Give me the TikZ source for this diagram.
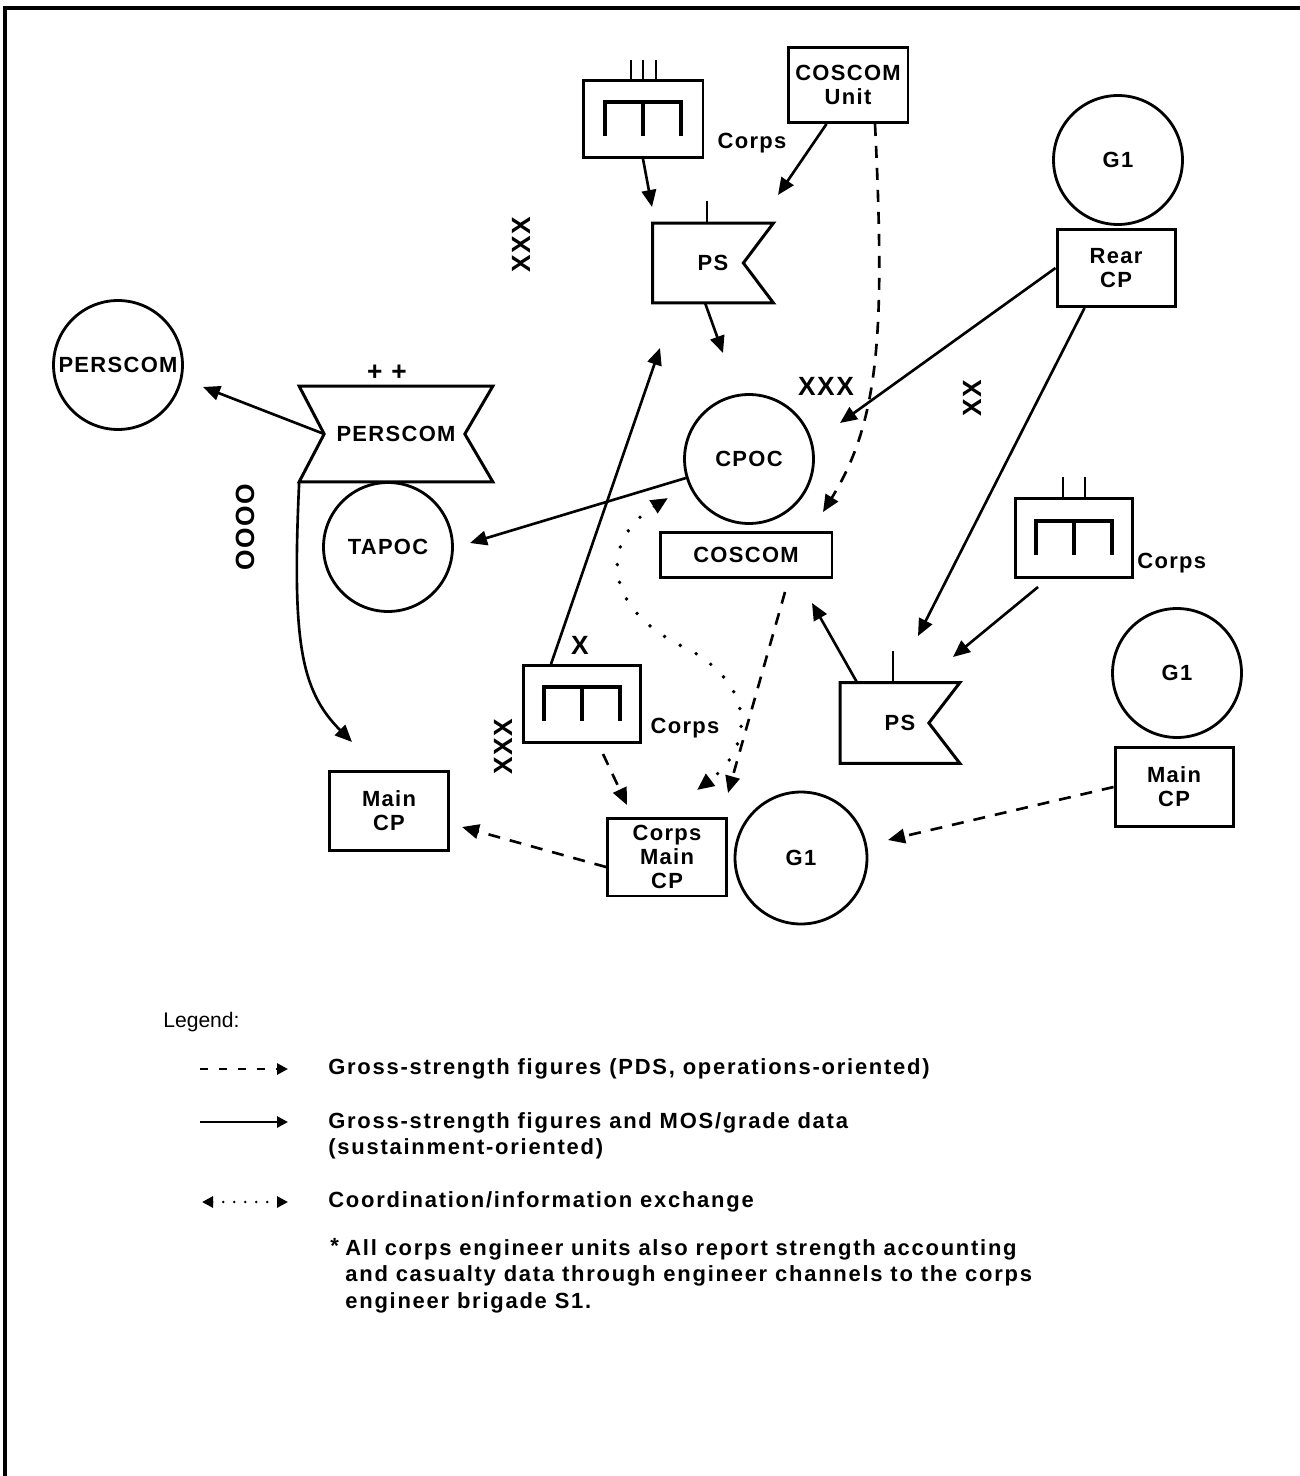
\documentclass[tikz,border=0pt]{standalone}
\usepackage{fontspec}
\setmainfont{Liberation Sans}
\newfontfamily\lblfont[LetterSpace=6]{Liberation Sans}
\newfontfamily\legfamily[LetterSpace=8]{Liberation Sans}
\usetikzlibrary{arrows.meta,calc}

\newcommand\lbl{\lblfont\bfseries\fontsize{12.5}{13.5}\selectfont}
\newcommand\ech{\lblfont\bfseries\fontsize{15}{16}\selectfont}
\newcommand\legfont{\legfamily\bfseries\fontsize{12.5}{15.2}\selectfont}

% engineer symbol inside a unit box
\newcommand\engsym[1]{%
  \draw[line width=2pt] ([shift={(-38,17)}]#1.center) -- ++(0,-34) -- ++(76,0) -- ++(0,34);
  \draw[line width=2pt] ([shift={(0,-17)}]#1.center) -- ++(0,34);}

\begin{document}
\begin{tikzpicture}[x=0.02cm, y=-0.02cm,
  ring/.style={draw, circle, line width=1.6pt, minimum size=2.58cm, inner sep=0pt, font=\lbl},
  unitbox/.style={draw, rectangle, line width=1.7pt, minimum width=2.38cm, minimum height=1.56cm, inner sep=0pt, align=center, font=\lbl},
  shapebox/.style={rectangle, minimum width=2.4cm, minimum height=1.58cm, inner sep=0pt, font=\lbl},
  symline/.style={line width=1.7pt, line join=miter},
  tag/.style={font=\lbl, inner sep=0pt},
  echelon/.style={font=\ech, inner sep=0pt},
  flow/.style={line width=1.5pt, -{Triangle[length=3.4mm,width=2.9mm]}},
  gross/.style={flow, dash pattern=on 0.24cm off 0.2cm},
  exchange/.style={line width=2.2pt, line cap=round, dash pattern=on 0pt off 0.36cm,
    {Triangle[length=3.4mm,width=2.9mm]}-{Triangle[length=3.4mm,width=2.9mm]}},
  legtext/.style={font=\legfont, inner sep=0pt, align=left},
  legarrow/.style={line width=1.6pt, -{Triangle[length=2.2mm,width=2.2mm]}},
]
\useasboundingbox (0,0) rectangle (1300,1476);
\draw[line width=2.3pt] (5,1476) -- (5,8) -- (1300,8);

% top
\node[unitbox, minimum width=2.4cm, minimum height=1.54cm] (engA) at (643,119) {};
\engsym{engA}
\foreach \dx in {-12,0,13} \draw[line width=1.5pt] ([shift={(\dx,0)}]engA.north) -- ++(0,-19);
\node[unitbox, minimum width=2.4cm, minimum height=1.5cm] (cosUnit) at (848,85) {COSCOM\\Unit};
\node[tag] (corpsA) at (752,143) {Corps};
\node[shapebox] (psA) at (713,263) {PS};
\draw[symline] (psA.north west) -- (psA.north east) -- ([xshift=-0.6cm]psA.east) -- (psA.south east) -- (psA.south west) -- cycle;
\draw[line width=1.5pt] ([xshift=-0.12cm]psA.north) -- ++(0,-22);
\node[echelon, rotate=90] (echA) at (521,245) {XXX};
\node[ring] (gA) at (1118,160) {G1};
\node[unitbox, minimum width=2.36cm, minimum height=1.54cm] (rearCP) at (1116,268) {Rear\\CP};

% left
\node[ring] (persC) at (118,365) {PERSCOM};
\node[shapebox, minimum width=3.86cm, minimum height=1.9cm] (persB) at (396,434) {PERSCOM};
\draw[symline] (persB.north west) -- (persB.north east) -- ([xshift=-0.56cm]persB.east) -- (persB.south east)
  -- (persB.south west) -- ([xshift=0.5cm]persB.west) -- cycle;
\node[echelon] (plus) at (387,373) {+ +};
\node[echelon, rotate=90] (echO) at (245,527) {OOOO};
\node[ring] (tapoc) at (388,547) {TAPOC};
\node[unitbox, minimum width=2.38cm, minimum height=1.58cm] (mainA) at (389,811) {Main\\CP};

% centre
\node[ring] (cpoc) at (749,459) {CPOC};
\node[unitbox, minimum width=3.44cm, minimum height=0.9cm] (coscom) at (746,555) {COSCOM};
\node[echelon] (echB) at (826,386) {XXX};
\node[echelon, rotate=90] (echC) at (972,398) {XX};

% right
\node[unitbox, minimum width=2.34cm, minimum height=1.58cm] (engB) at (1074,538) {};
\engsym{engB}
\foreach \dx in {-11,11} \draw[line width=1.5pt] ([shift={(\dx,0)}]engB.north) -- ++(0,-20);
\node[tag, anchor=west] (corpsB) at (1137,563) {Corps};
\node[shapebox, minimum width=2.38cm, minimum height=1.6cm] (psB) at (900,723) {PS};
\draw[symline] (psB.north west) -- (psB.north east) -- ([xshift=-0.62cm]psB.east) -- (psB.south east) -- (psB.south west) -- cycle;
\draw[line width=1.5pt] ([xshift=-0.14cm]psB.north) -- ++(0,-32);
\node[ring] (gB) at (1177,673) {G1};
\node[unitbox, minimum width=2.36cm, minimum height=1.58cm] (mainB) at (1174,787) {Main\\CP};

% bottom
\node[unitbox, minimum width=2.34cm, minimum height=1.54cm] (engC) at (582,704) {};
\engsym{engC}
\node[echelon] (echX) at (580,645) {X};
\node[tag] (corpsC) at (685,728) {Corps};
\node[echelon, rotate=90] (echD) at (503,747) {XXX};
\node[unitbox, minimum width=2.38cm, minimum height=1.56cm] (corpsMain) at (667,857) {Corps\\Main\\CP};
\node[ring, minimum size=2.64cm] (gC) at (801,858) {G1};

% free ends
\coordinate (tPsA) at (652,207);
\coordinate (tPsA2) at (778,195);
\coordinate (tCpoc) at (723,353);
\coordinate (tPsAup) at (660,348);
\coordinate (tPers) at (203,387);
\coordinate (tTapoc) at (470,543);
\coordinate (tCpoc2) at (840,423);
\coordinate (tPsB) at (918,636);
\coordinate (tPsB2) at (953,657);
\coordinate (tCos) at (812,603);
\coordinate (tCosTop) at (823,512);
\coordinate (tCMa) at (728,793);
\coordinate (tCMb) at (627,805);
\coordinate (tGC) at (888,840);
\coordinate (tMainA) at (462,827);
\coordinate (tMainA2) at (352,742);
\coordinate (dotS) at (668,498);
\coordinate (dotE) at (697,790);

% sustainment (solid)
\draw[flow] (engA.south) -- (tPsA);
\draw[flow] ([xshift=0.8cm]cosUnit.south west) -- (tPsA2);
\draw[flow] ([xshift=-0.16cm]psA.south) -- (tCpoc);
\draw[flow] ([xshift=0.58cm]engC.north west) -- (tPsAup);
\draw[flow] ([xshift=0.5cm]persB.west) -- (tPers);
\draw[flow] (cpoc) -- (tTapoc);
\draw[flow] (rearCP.west) -- (tCpoc2);
\draw[flow] ([xshift=0.58cm]rearCP.south west) -- (tPsB);
\draw[flow] ([shift={(24,8)}]engB.south west) -- (tPsB2);
\draw[flow] ([xshift=0.34cm]psB.north west) -- (tCos);
\draw[flow] (persB.south west) .. controls (292,640) and (300,690) .. (tMainA2);

% operations (dashed)
\draw[gross] ([xshift=0.54cm]cosUnit.south) .. controls (885,330) and (880,420) .. (tCosTop);
\draw[gross] ([shift={(39,13)}]coscom.south) -- (tCMa);
\draw[gross] ([shift={(21,10)}]engC.south) -- (tCMb);
\draw[gross] (mainB.west) -- (tGC);
\draw[gross] ([yshift=-0.2cm]corpsMain.west) -- (tMainA);

% coordination (dotted)
\draw[exchange] (dotS) .. controls (600,540) and (600,610) .. (690,650) .. controls (760,690) and (750,750) .. (dotE);

% legend
\node[inner sep=0pt, anchor=west, font=\fontsize{12}{14}\selectfont] (legTitle) at (163,1022) {Legend:};
\coordinate (lA1) at (200,1069); \coordinate (lA2) at (288,1069);
\coordinate (lB1) at (200,1122); \coordinate (lB2) at (288,1122);
\coordinate (lC1) at (202,1202); \coordinate (lC2) at (288,1202);
\draw[legarrow, dash pattern=on 0.16cm off 0.22cm] (lA1) -- (lA2);
\draw[legarrow] (lB1) -- (lB2);
\draw[legarrow, line cap=round, dash pattern=on 0pt off 0.22cm,
  {Triangle[length=2.2mm,width=2.2mm]}-{Triangle[length=2.2mm,width=2.2mm]}] (lC1) -- (lC2);
\node[legtext, anchor=west] (legA) at (328,1069) {Gross-strength figures (PDS, operations-oriented)};
\node[legtext, anchor=north west] (legB) at (328,1112) {Gross-strength figures and MOS/grade data\\(sustainment-oriented)};
\node[legtext, anchor=west] (legC) at (328,1202) {Coordination/information exchange};
\node[legtext, anchor=north west] (star) at (330,1238) {*};
\node[legtext, anchor=north west] (note) at (345,1239) {All corps engineer units also report strength accounting\\and casualty data through engineer channels to the corps\\engineer brigade S1.};
\end{tikzpicture}
\end{document}
